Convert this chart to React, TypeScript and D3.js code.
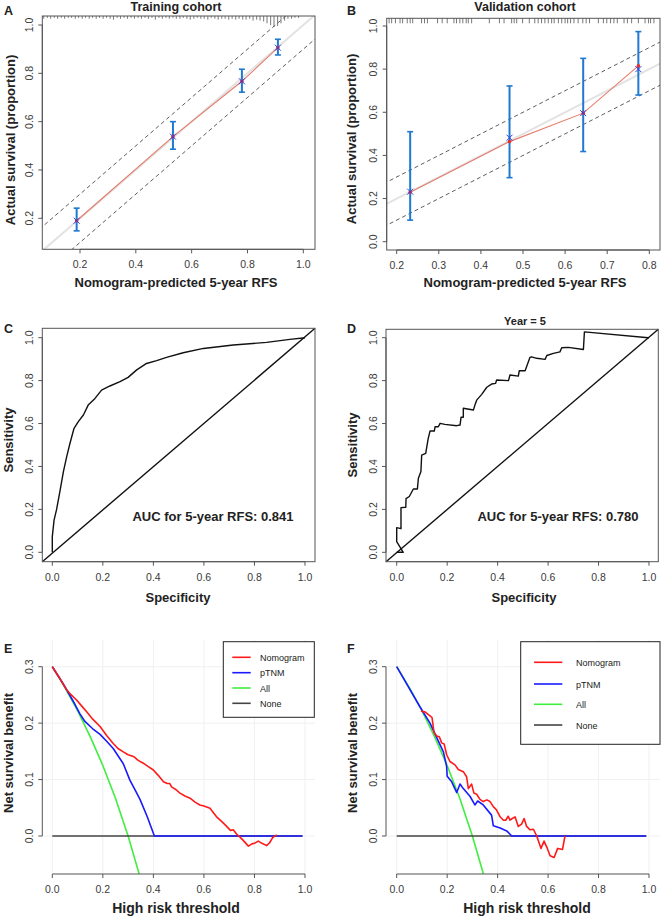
import React from "react";
import * as d3 from "d3";

const FONT = "'Liberation Sans', Arial, Helvetica, sans-serif";

// ---- A: calibration, training cohort ----
const calAPred = [0.188, 0.533, 0.78, 0.909];
const calAObs = [0.19, 0.538, 0.767, 0.906];
const calALo = [0.148, 0.486, 0.722, 0.876];
const calAHi = [0.242, 0.6, 0.817, 0.941];
// spike histogram of predicted values along the top
const rugA: [number, number][] = [
  [0.07, 3], [0.083, 2], [0.095, 3], [0.108, 2], [0.12, 3], [0.133, 2], [0.145, 3], [0.158, 2],
  [0.17, 2], [0.183, 3], [0.195, 2], [0.208, 3], [0.22, 2], [0.233, 3], [0.245, 2], [0.258, 3],
  [0.27, 2], [0.283, 3], [0.295, 2], [0.308, 3], [0.32, 4], [0.333, 2], [0.345, 3], [0.358, 2],
  [0.37, 3], [0.383, 2], [0.395, 3], [0.408, 2], [0.42, 3], [0.433, 2], [0.445, 3], [0.458, 2],
  [0.47, 4], [0.483, 2], [0.495, 3], [0.508, 2], [0.52, 3], [0.533, 2], [0.545, 3], [0.558, 3],
  [0.57, 2], [0.583, 3], [0.595, 4], [0.608, 3], [0.62, 2], [0.633, 3], [0.645, 3], [0.658, 4],
  [0.67, 2], [0.683, 3], [0.695, 4], [0.708, 3], [0.72, 3], [0.733, 4], [0.745, 3], [0.758, 4],
  [0.77, 3], [0.783, 4], [0.795, 4], [0.808, 3], [0.82, 5], [0.833, 4], [0.845, 5], [0.858, 6],
  [0.87, 8], [0.883, 10], [0.895, 12], [0.908, 11], [0.92, 8], [0.933, 5], [0.945, 3], [0.958, 3],
  [0.97, 2], [0.983, 2],
];

// ---- B: calibration, validation cohort ----
const calBPred = [0.232, 0.468, 0.643, 0.774];
const calBObs = [0.229, 0.464, 0.596, 0.815];
const calBCorr = [0.232, 0.482, 0.596, 0.8];
const calBLo = [0.1, 0.297, 0.418, 0.68];
const calBHi = [0.51, 0.722, 0.85, 0.974];
const rugB = [
  0.182, 0.188, 0.197, 0.208, 0.214, 0.225, 0.232, 0.238, 0.259, 0.266, 0.273, 0.297, 0.308,
  0.32, 0.336, 0.342, 0.35, 0.357, 0.365, 0.37, 0.378, 0.42, 0.444, 0.455, 0.473, 0.479, 0.485,
  0.499, 0.515, 0.528, 0.536, 0.544, 0.552, 0.56, 0.568, 0.574, 0.584, 0.592, 0.6, 0.606, 0.613,
  0.621, 0.631, 0.642, 0.65, 0.658, 0.679, 0.691, 0.699, 0.708, 0.716, 0.724, 0.74, 0.748, 0.758,
  0.774, 0.79, 0.798, 0.803, 0.811,
];

// ---- C / D: ROC curves ----
const rocC: [number, number][] = [
  [0, 0], [0, 0.073], [0.007, 0.15], [0.017, 0.2], [0.03, 0.283], [0.044, 0.376], [0.057, 0.446],
  [0.07, 0.508], [0.086, 0.578], [0.103, 0.609], [0.123, 0.64], [0.142, 0.686], [0.169, 0.717],
  [0.195, 0.756], [0.228, 0.775], [0.268, 0.795], [0.3, 0.815], [0.334, 0.85], [0.373, 0.88],
  [0.413, 0.893], [0.452, 0.908], [0.518, 0.93], [0.598, 0.95], [0.716, 0.966], [0.848, 0.978],
  [0.94, 0.992], [1, 1],
];
const rocD: [number, number][] = [
  [0, 0], [0.026, 0], [0, 0.05], [0, 0.115], [0.017, 0.11], [0.017, 0.208], [0.036, 0.21],
  [0.037, 0.25], [0.05, 0.26], [0.066, 0.295], [0.082, 0.295], [0.086, 0.345], [0.096, 0.376],
  [0.099, 0.453], [0.115, 0.461], [0.125, 0.531], [0.132, 0.565], [0.149, 0.565], [0.152, 0.585],
  [0.165, 0.585], [0.172, 0.601], [0.191, 0.596], [0.238, 0.59], [0.251, 0.593], [0.255, 0.629],
  [0.264, 0.629], [0.264, 0.671], [0.304, 0.663], [0.31, 0.686], [0.317, 0.709], [0.337, 0.736],
  [0.357, 0.769], [0.376, 0.784], [0.392, 0.787], [0.396, 0.803], [0.443, 0.8], [0.449, 0.826],
  [0.482, 0.821], [0.486, 0.846], [0.509, 0.846], [0.528, 0.908], [0.535, 0.911], [0.555, 0.904],
  [0.588, 0.899], [0.595, 0.917], [0.621, 0.927], [0.647, 0.934], [0.654, 0.953], [0.68, 0.955],
  [0.74, 0.945], [0.744, 1.027], [0.997, 1.0], [1, 1],
];

// ---- E / F: decision curves ----
const allE: [number, number][] = [
  [0, 0.3], [0.05, 0.263], [0.1, 0.222], [0.15, 0.176], [0.2, 0.125], [0.25, 0.067], [0.3, 0],
  [0.35, -0.077],
];
const noneE: [number, number][] = [[0, 0], [0.99, 0]];
const ptnmE: [number, number][] = [
  [0, 0.3], [0.04, 0.272], [0.07, 0.249], [0.09, 0.233], [0.11, 0.216], [0.129, 0.203],
  [0.16, 0.19], [0.189, 0.18], [0.215, 0.168], [0.241, 0.155], [0.262, 0.141], [0.281, 0.128],
  [0.307, 0.099], [0.327, 0.082], [0.347, 0.065], [0.375, 0.035], [0.404, 0], [0.99, 0],
];
const nomE: [number, number][] = [
  [0, 0.3], [0.03, 0.279], [0.057, 0.259], [0.075, 0.25], [0.096, 0.241], [0.115, 0.231],
  [0.136, 0.22], [0.16, 0.207], [0.189, 0.194], [0.215, 0.178], [0.241, 0.164], [0.26, 0.155],
  [0.281, 0.149], [0.3, 0.144], [0.321, 0.141], [0.34, 0.134], [0.36, 0.129], [0.38, 0.123],
  [0.4, 0.117], [0.42, 0.107], [0.44, 0.096], [0.455, 0.093], [0.465, 0.093], [0.472, 0.087],
  [0.49, 0.082], [0.505, 0.076], [0.525, 0.071], [0.545, 0.067], [0.565, 0.06], [0.584, 0.055],
  [0.6, 0.053], [0.624, 0.049], [0.64, 0.04], [0.65, 0.034], [0.67, 0.026], [0.69, 0.017],
  [0.705, 0.01], [0.716, 0.011], [0.73, 0.003], [0.743, -0.002], [0.76, -0.01], [0.776, -0.018],
  [0.79, -0.014], [0.8, -0.013], [0.815, -0.009], [0.83, -0.013], [0.848, -0.017], [0.86, -0.012],
  [0.872, -0.003], [0.888, 0.002],
];
const allF = allE;
const noneF = noneE;
const ptnmF: [number, number][] = [
  [0, 0.3], [0.092, 0.229], [0.132, 0.2], [0.185, 0.149], [0.198, 0.123], [0.2, 0.106],
  [0.218, 0.096], [0.238, 0.077], [0.251, 0.092], [0.264, 0.084], [0.291, 0.07], [0.31, 0.055],
  [0.321, 0.062], [0.343, 0.055], [0.376, 0.037], [0.383, 0.018], [0.41, 0.014], [0.436, 0.009],
  [0.456, 0], [0.988, 0],
];
const nomF: [number, number][] = [
  [0.096, 0.221], [0.112, 0.22], [0.132, 0.213], [0.14, 0.21], [0.148, 0.183], [0.159, 0.177],
  [0.169, 0.176], [0.178, 0.165], [0.188, 0.163], [0.198, 0.144], [0.211, 0.132], [0.231, 0.126],
  [0.244, 0.118], [0.264, 0.114], [0.277, 0.105], [0.284, 0.084], [0.297, 0.092], [0.306, 0.076],
  [0.317, 0.074], [0.33, 0.065], [0.343, 0.061], [0.357, 0.064], [0.37, 0.061], [0.383, 0.052],
  [0.396, 0.046], [0.41, 0.034], [0.423, 0.028], [0.432, 0.028], [0.442, 0.035], [0.449, 0.028],
  [0.458, 0.031], [0.469, 0.034], [0.482, 0.017], [0.495, 0.021], [0.505, 0.031], [0.515, 0.017],
  [0.528, 0.011], [0.542, 0.012], [0.555, 0], [0.572, -0.022], [0.584, -0.009], [0.597, -0.022],
  [0.608, -0.035], [0.624, -0.038], [0.638, -0.022], [0.657, -0.024], [0.667, 0],
];

const legendNames = ["Nomogram", "pTNM", "All", "None"];
const legendColors = ["#ff1a1a", "#1a1aff", "#40ee40", "#444"];

const xTicksA = [0.2, 0.4, 0.6, 0.8, 1.0];
const yTicksA = [0.2, 0.4, 0.6, 0.8, 1.0];
const xTicksB = [0.2, 0.3, 0.4, 0.5, 0.6, 0.7, 0.8];
const yTicksB = [0, 0.2, 0.4, 0.6, 0.8, 1.0];
const ticks01 = [0, 0.2, 0.4, 0.6, 0.8, 1.0];
const yTicksDCA = [0, 0.1, 0.2, 0.3];

type Scale = d3.ScaleLinear<number, number>;
type Rect = { x0: number; x1: number; y0: number; y1: number };

const Axes = ({ x, y, r, xt, yt, box = true }: { x: Scale; y: Scale; r: Rect; xt: number[]; yt: number[]; box?: boolean }) => (
  <g fontFamily={FONT} fontSize={10.5} fill="#3a3a3a">
    {box && <rect x={r.x0} y={r.y0} width={r.x1 - r.x0} height={r.y1 - r.y0} fill="none" stroke="#555" />}
    <line x1={x(xt[0])} x2={x(xt[xt.length - 1])} y1={r.y1} y2={r.y1} stroke="#555" />
    {xt.map((t) => (
      <g key={"x" + t}>
        <line x1={x(t)} x2={x(t)} y1={r.y1} y2={r.y1 + 4} stroke="#555" />
        <text x={x(t)} y={r.y1 + 19} textAnchor="middle">{t.toFixed(1)}</text>
      </g>
    ))}
    <line x1={r.x0} x2={r.x0} y1={y(yt[0])} y2={y(yt[yt.length - 1])} stroke="#555" />
    {yt.map((t) => (
      <g key={"y" + t}>
        <line x1={r.x0} x2={r.x0 - 4} y1={y(t)} y2={y(t)} stroke="#555" />
        <text transform={`translate(${r.x0 - 9.5},${y(t)}) rotate(-90)`} textAnchor="middle">{t.toFixed(1)}</text>
      </g>
    ))}
  </g>
);

const Label = ({ x, y, text, size = 13, rot = false, anchor = "middle" }: { x: number; y: number; text: string; size?: number; rot?: boolean; anchor?: string }) => (
  <text
    transform={`translate(${x},${y})${rot ? " rotate(-90)" : ""}`}
    textAnchor={anchor}
    fontFamily={FONT}
    fontWeight="bold"
    fontSize={size}
    fill="#222"
  >
    {text}
  </text>
);

const Calib = ({ id, x, y, r, pred, obs, corr, lo, hi }: { id: string; x: Scale; y: Scale; r: Rect; pred: number[]; obs: number[]; corr: number[]; lo: number[]; hi: number[] }) => {
  const d0 = x.invert(r.x0) - 0.2;
  const d1 = x.invert(r.x1) + 0.2;
  const line = d3.line<number>().x((_, i) => x(pred[i])).y((d) => y(d));
  return (
    <g>
      <clipPath id={id}>
        <rect x={r.x0} y={r.y0} width={r.x1 - r.x0} height={r.y1 - r.y0} />
      </clipPath>
      <g clipPath={`url(#${id})`}>
        <line x1={x(d0)} y1={y(d0)} x2={x(d1)} y2={y(d1)} stroke="#e3e3e3" strokeWidth={2} />
        <line x1={x(d0)} y1={y(d0 + 0.1)} x2={x(d1)} y2={y(d1 + 0.1)} stroke="#333" strokeWidth={0.8} strokeDasharray="4,3" />
        <line x1={x(d0)} y1={y(d0 - 0.1)} x2={x(d1)} y2={y(d1 - 0.1)} stroke="#333" strokeWidth={0.8} strokeDasharray="4,3" />
      </g>
      <path d={line(obs) ?? ""} fill="none" stroke="#e47d6c" strokeWidth={1.1} />
      {pred.map((p, i) => (
        <g key={i}>
          <line x1={x(p)} x2={x(p)} y1={y(lo[i])} y2={y(hi[i])} stroke="#1f78d1" strokeWidth={2} />
          <line x1={x(p) - 3} x2={x(p) + 3} y1={y(lo[i])} y2={y(lo[i])} stroke="#1f78d1" strokeWidth={1.6} />
          <line x1={x(p) - 3} x2={x(p) + 3} y1={y(hi[i])} y2={y(hi[i])} stroke="#1f78d1" strokeWidth={1.6} />
          <circle cx={x(p)} cy={y(obs[i])} r={1.8} fill="#e03030" />
          <path
            d={`M${x(p) - 3},${y(corr[i]) - 3}L${x(p) + 3},${y(corr[i]) + 3}M${x(p) - 3},${y(corr[i]) + 3}L${x(p) + 3},${y(corr[i]) - 3}`}
            stroke="#3040e0"
            strokeWidth={1}
          />
        </g>
      ))}
    </g>
  );
};

const Roc = ({ x, y, r, pts }: { x: Scale; y: Scale; r: Rect; pts: [number, number][] }) => {
  const line = d3.line<[number, number]>().x((d) => x(d[0])).y((d) => y(d[1]));
  return (
    <g>
      <line x1={r.x0} y1={r.y1} x2={r.x1} y2={r.y0} stroke="#111" strokeWidth={1.4} />
      <path d={line(pts) ?? ""} fill="none" stroke="#111" strokeWidth={1.4} strokeLinejoin="round" />
    </g>
  );
};

const Dca = ({ id, x, y, r, series, xt, yt }: { id: string; x: Scale; y: Scale; r: Rect; series: [number, number][][]; xt: number[]; yt: number[] }) => {
  const line = d3.line<[number, number]>().x((d) => x(d[0])).y((d) => y(d[1]));
  // draw order: All, None, pTNM, Nomogram
  const order = [2, 3, 1, 0];
  return (
    <g>
      <clipPath id={id}>
        <rect x={r.x0} y={r.y0} width={r.x1 - r.x0} height={r.y1 - r.y0} />
      </clipPath>
      {xt.map((t) => (
        <line key={"gx" + t} x1={x(t)} x2={x(t)} y1={r.y0} y2={r.y1} stroke="#f0f0f0" />
      ))}
      {yt.map((t) => (
        <line key={"gy" + t} x1={r.x0} x2={r.x1} y1={y(t)} y2={y(t)} stroke="#f0f0f0" />
      ))}
      <g clipPath={`url(#${id})`}>
        {order.map((k) => (
          <path key={k} d={line(series[k]) ?? ""} fill="none" stroke={legendColors[k]} strokeWidth={1.6} strokeLinejoin="round" />
        ))}
      </g>
    </g>
  );
};

const Legend = ({ x0, y0, w, h, lx0, lx1, tx, rows, size }: { x0: number; y0: number; w: number; h: number; lx0: number; lx1: number; tx: number; rows: number[]; size: number }) => (
  <g fontFamily={FONT} fontSize={size} fill="#222">
    <rect x={x0} y={y0} width={w} height={h} fill="#fff" stroke="#222" />
    {legendNames.map((n, i) => (
      <g key={n}>
        <line x1={lx0} x2={lx1} y1={rows[i]} y2={rows[i]} stroke={legendColors[i]} strokeWidth={1.6} />
        <text x={tx} y={rows[i] + 3.5}>{n}</text>
      </g>
    ))}
  </g>
);

const App = () => {
  // A
  const rA = { x0: 42.3, x1: 315, y0: 16, y1: 249.3 };
  const xA = d3.scaleLinear().domain([0.2, 1.0]).range([80, 303.3]);
  const yA = d3.scaleLinear().domain([0.2, 1.0]).range([218.3, 25]);
  const hA = d3.scaleLinear().domain([0, 12]).range([0, 11]);
  // B
  const rB = { x0: 386.7, x1: 660, y0: 18.3, y1: 250 };
  const xB = d3.scaleLinear().domain([0.2, 0.8]).range([396.7, 649.3]);
  const yB = d3.scaleLinear().domain([0, 1]).range([241.7, 26]);
  // C, D
  const rC = { x0: 42.3, x1: 315, y0: 328.3, y1: 561.7 };
  const xC = d3.scaleLinear().domain([0, 1]).range([52.3, 305]);
  const yC = d3.scaleLinear().domain([0, 1]).range([552.3, 337.7]);
  const rD = { x0: 386, x1: 658.3, y0: 329.3, y1: 561.7 };
  const xD = d3.scaleLinear().domain([0, 1]).range([396.7, 649]);
  // E, F
  const rE = { x0: 42.3, x1: 315, y0: 640, y1: 874 };
  const xE = d3.scaleLinear().domain([0, 1]).range([52.3, 305]);
  const yE = d3.scaleLinear().domain([0, 0.3]).range([836, 666.7]);
  const rF = { x0: 386, x1: 660, y0: 640, y1: 874 };
  const xF = d3.scaleLinear().domain([0, 1]).range([396.7, 649]);

  return (
    <svg width={661} height={917} style={{ position: "absolute", left: 0, top: 0, background: "#fff" }}>
      <rect width={661} height={917} fill="#fff" />

      {/* A */}
      <Calib id="clipA" x={xA} y={yA} r={rA} pred={calAPred} obs={calAObs} corr={calAObs} lo={calALo} hi={calAHi} />
      {rugA.map(([v, n]) => (
        <line key={v} x1={xA(v)} x2={xA(v)} y1={rA.y0} y2={rA.y0 + hA(n)} stroke="#555" strokeWidth={0.8} />
      ))}
      <Axes x={xA} y={yA} r={rA} xt={xTicksA} yt={yTicksA} />
      <Label x={176} y={11} text="Training cohort" size={12.5} />
      <Label x={4} y={15} text="A" size={12.5} anchor="start" />
      <Label x={176} y={287} text="Nomogram-predicted 5-year RFS" />
      <Label x={14.5} y={140} text="Actual survival (proportion)" rot />

      {/* B */}
      <Calib id="clipB" x={xB} y={yB} r={rB} pred={calBPred} obs={calBObs} corr={calBCorr} lo={calBLo} hi={calBHi} />
      {rugB.map((v) => (
        <line key={v} x1={xB(v)} x2={xB(v)} y1={rB.y0} y2={rB.y0 + 5} stroke="#555" strokeWidth={0.8} />
      ))}
      <Axes x={xB} y={yB} r={rB} xt={xTicksB} yt={yTicksB} />
      <Label x={525} y={11} text="Validation cohort" size={12.5} />
      <Label x={347} y={15} text="B" size={12.5} anchor="start" />
      <Label x={525} y={287} text="Nomogram-predicted 5-year RFS" />
      <Label x={356} y={139} text="Actual survival (proportion)" rot />

      {/* C */}
      <Roc x={xC} y={yC} r={rC} pts={rocC} />
      <Axes x={xC} y={yC} r={rC} xt={ticks01} yt={ticks01} />
      <text x={213} y={521} textAnchor="middle" fontFamily={FONT} fontWeight="bold" fontSize={13} fill="#222">
        AUC for 5-year RFS: 0.841
      </text>
      <Label x={4} y={333} text="C" size={12.5} anchor="start" />
      <Label x={178} y={602} text="Specificity" />
      <Label x={13} y={440} text="Sensitivity" rot />

      {/* D */}
      <Roc x={xD} y={yC} r={rD} pts={rocD} />
      <Axes x={xD} y={yC} r={rD} xt={ticks01} yt={ticks01} />
      <text x={558} y={521} textAnchor="middle" fontFamily={FONT} fontWeight="bold" fontSize={13} fill="#222">
        AUC for 5-year RFS: 0.780
      </text>
      <Label x={525} y={324.5} text="Year = 5" size={11} />
      <Label x={347} y={333} text="D" size={12.5} anchor="start" />
      <Label x={524} y={602} text="Specificity" />
      <Label x={357} y={445} text="Sensitivity" rot />

      {/* E */}
      <Dca id="clipE" x={xE} y={yE} r={rE} series={[nomE, ptnmE, allE, noneE]} xt={ticks01} yt={yTicksDCA} />
      <Axes x={xE} y={yE} r={rE} xt={ticks01} yt={yTicksDCA} box={false} />
      <Legend x0={223.3} y0={641.7} w={91} h={75.6} lx0={232.3} lx1={250.7} tx={260} rows={[657.3, 672.7, 688, 703.3]} size={9} />
      <Label x={4} y={653} text="E" size={12.5} anchor="start" />
      <Label x={176} y={913} text="High risk threshold" size={14} />
      <Label x={13} y={753} text="Net survival benefit" rot />

      {/* F */}
      <Dca id="clipF" x={xF} y={yE} r={rF} series={[nomF, ptnmF, allF, noneF]} xt={ticks01} yt={yTicksDCA} />
      <Axes x={xF} y={yE} r={rF} xt={ticks01} yt={yTicksDCA} box={false} />
      <Legend x0={520.7} y0={641.7} w={139.3} h={102.6} lx0={534} lx1={562.3} tx={576} rows={[662.3, 684, 704.3, 725]} size={9} />
      <Label x={347} y={653} text="F" size={12.5} anchor="start" />
      <Label x={527} y={913} text="High risk threshold" size={14} />
      <Label x={357} y={753} text="Net survival benefit" rot />
    </svg>
  );
};

export default App;
